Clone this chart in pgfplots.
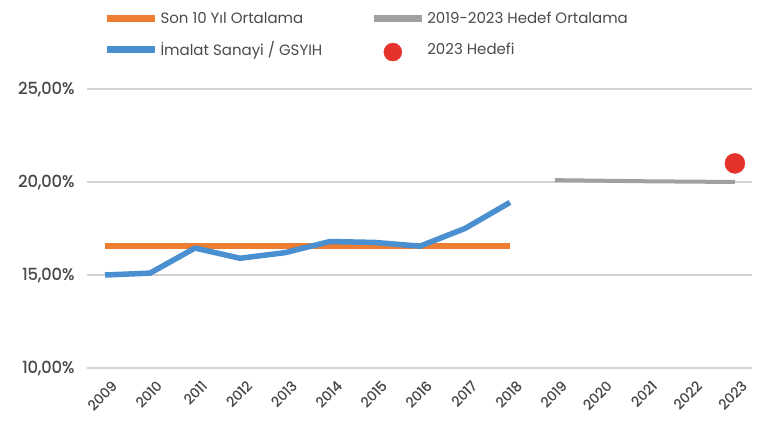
\documentclass[border=0pt]{standalone}
\usepackage{fontspec}
\setmainfont{Poppins}
\newfontfamily\tickfont{Poppins}[FakeBold=0.8]
\usepackage{pgfplots}
\pgfplotsset{compat=1.18}
\definecolor{cOr}{HTML}{ED7D31}
\definecolor{cBl}{HTML}{4A8FD0}
\definecolor{cGr}{HTML}{A0A0A0}
\definecolor{cRd}{HTML}{E5322B}
\definecolor{cTx}{HTML}{4A4A4A}
\definecolor{cGrid}{HTML}{D8D2CE}
\begin{document}
\begin{tikzpicture}
\useasboundingbox (-87pt,-54pt) rectangle (671pt,368pt);
\begin{axis}[
 scale only axis, width=665pt, height=279pt,
 xmin=2008.6, xmax=2023.38, ymin=10, ymax=25,
 axis line style={draw=none},
 major tick length=0pt,
 ytick={10,15,20,25}, ymajorgrids, grid style={cGrid, line width=1.5pt},
 xtick={2009,...,2023},
 /pgf/number format/assume math mode=true,
 xticklabel style={rotate=45, anchor=north east, font=\tickfont\fontsize{14}{14}\selectfont, text=cTx, xshift=-3pt, yshift=-11pt, inner sep=1pt, /pgf/number format/1000 sep={}},
 yticklabel={\pgfmathprintnumber[fixed,fixed zerofill,precision=2,use comma]{\tick}\%},
 yticklabel style={font=\tickfont\fontsize{16.5}{16.5}\selectfont, text=cTx, xshift=-9pt},
 legend columns=2,
 legend style={draw=none, fill=none, at={(0.02,1.29)}, anchor=north west,
   font=\fontsize{15}{18}\selectfont, text=cTx,
   /tikz/every even column/.append style={column sep=46pt}, row sep=12pt,
   cells={anchor=west}},
 legend image code/.code={\draw[#1, line width=7pt] (-6pt,0pt) -- (42pt,0pt);},
]
\addplot[cOr, line width=6.5pt] coordinates {(2009,16.55) (2018,16.55)};
\addlegendentry{Son 10 Yıl Ortalama}
\addplot[cGr, line width=4pt] coordinates {(2019,20.1) (2020,20.07) (2021,20.04) (2022,20.02) (2023,20.0)};
\addlegendentry{2019-2023 Hedef Ortalama}
\addplot[cBl, line width=5.5pt, line join=round] coordinates {(2009,15.0) (2010,15.1) (2011,16.45) (2012,15.9) (2013,16.2) (2014,16.8) (2015,16.75) (2016,16.55) (2017,17.5) (2018,18.9)};
\addlegendentry{İmalat Sanayi / GSYIH}
\addplot[only marks, mark=*, mark size=10pt, cRd, legend image code/.code={\fill[cRd] (13pt,-3pt) circle (9pt);}] coordinates {(2023,21.0)};
\addlegendentry{2023 Hedefi}
\end{axis}
\end{tikzpicture}
\end{document}
